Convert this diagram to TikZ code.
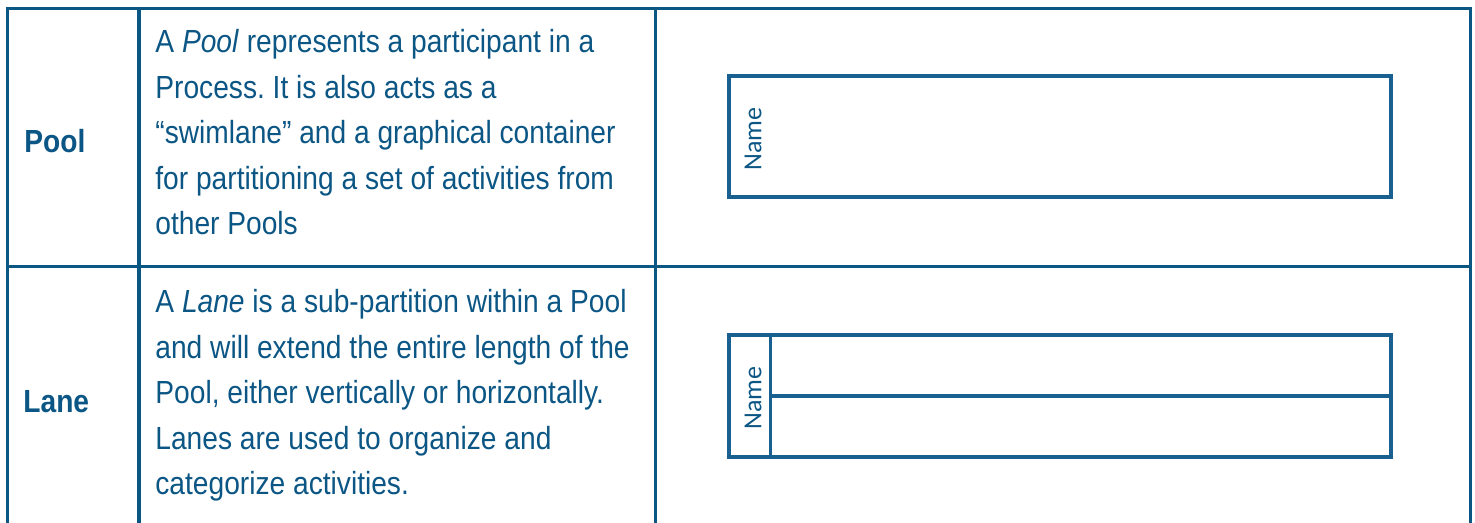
\documentclass[tikz,border=0pt]{standalone}
\usepackage{fontspec}
\setmainfont{Liberation Sans}[FakeStretch=0.88]
\newfontfamily\namefont{Carlito}
\definecolor{rule}{HTML}{0A5784}
\definecolor{ink}{HTML}{0B5684}
\definecolor{shape}{HTML}{17608F}
\frenchspacing
\begin{document}
\begin{tikzpicture}[x=0.5pt,y=-0.5pt,
  grid/.style={draw=rule,line width=1.6pt},
  shapebox/.style={draw=shape,line width=1.6pt},
  termlabel/.style={anchor=base west,inner sep=0pt,text=ink,font=\fontsize{16pt}{22.75pt}\selectfont\bfseries},
  desc/.style={anchor=base west,inner sep=0pt,text=ink,font=\fontsize{16pt}{22.75pt}\selectfont},
  lanename/.style={rotate=90,inner sep=0pt,text=ink,font=\namefont\fontsize{13pt}{15pt}\selectfont}]
\useasboundingbox (0,0) rectangle (1475,523);
% table rules (open at the bottom)
\coordinate (tl) at (7.5,8.5);
\coordinate (tr) at (1470.5,8.5);
\coordinate (bl) at (7.5,523);
\coordinate (br) at (1470.5,523);
\draw[grid] (bl) -- (tl) -- (tr) -- (br);
\draw[grid] (139,8.5) -- (139,523);
\draw[grid] (655.5,8.5) -- (655.5,523);
\draw[grid] (7.5,266.5) -- (1470.5,266.5);
% first column
\node[termlabel] (pool) at (24,153) {Pool};
\node[termlabel] (lane) at (23,412) {Lane};
% second column: one node per line
\node[desc] (pool1) at (155,53) {A \textit{Pool} represents a participant in a};
\node[desc] (pool2) at (155,98.5) {Process. It is also acts as a};
\node[desc] (pool3) at (155,144) {“swimlane” and a graphical container};
\node[desc] (pool4) at (155,189.5) {for partitioning a set of activities from};
\node[desc] (pool5) at (155,235) {other Pools};
\node[desc] (lane1) at (155,313) {A \textit{Lane} is a sub-partition within a Pool};
\node[desc] (lane2) at (155,358) {and will extend the entire length of the};
\node[desc] (lane3) at (155,403.5) {Pool, either vertically or horizontally.};
\node[desc] (lane4) at (155,449) {Lanes are used to organize and};
\node[desc] (lane5) at (155,494) {categorize activities.};
% pool symbol
\draw[shapebox] (729,76) rectangle (1391,197);
\node[lanename] (poolname) at (753,139) {Name};
% lane symbol
\draw[shapebox] (729,335) rectangle (1391,457);
\draw[shapebox] (770.5,335) -- (770.5,457);
\draw[shapebox] (770.5,396) -- (1391,396);
\node[lanename] (lanenm) at (753,398) {Name};
\end{tikzpicture}
\end{document}
